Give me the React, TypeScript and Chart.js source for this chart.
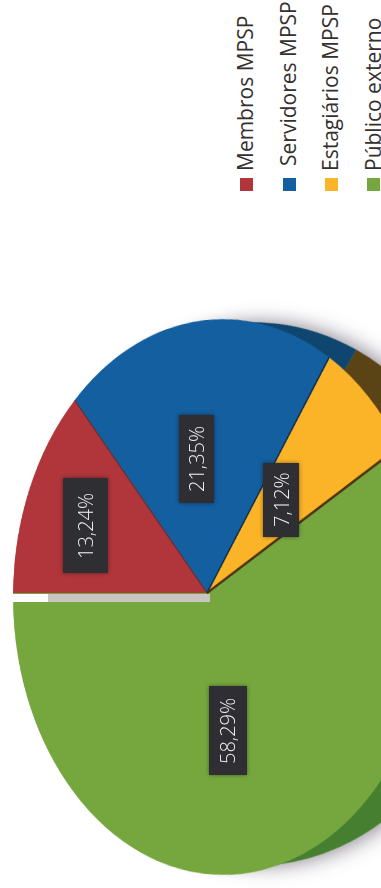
import React, { useEffect, useRef } from "react";
import { Chart, registerables } from "chart.js";

Chart.register(...registerables);

const categories = ["Membros MPSP", "Servidores MPSP", "Estagiários MPSP", "Público externo"];
const shares = [13.24, 21.35, 7.12, 58.29];
const faceColors = ["#b0363b", "#135f9f", "#fbb327", "#76a73f"];
const sideColors = ["#c9c6c2", "#0e4670", "#5a4416", "#467f30"];
const seamColors = ["#6e2a22", "#0c2a48", "#4a3212", "#4a3212"];
const seamWidths = [1.5, 2, 3, 0];

const legendFontSize = 21;
const legendSlots = [
  { x: 231, bottom: 171 },
  { x: 274, bottom: 166 },
  { x: 316, bottom: 171 },
  { x: 359, bottom: 171 },
];
const swatches = [
  { x: 240, w: 13 },
  { x: 283, w: 13 },
  { x: 325, w: 13 },
  { x: 367, w: 13 },
];
const labelBoxes = [
  { x: 63, y: 478, w: 45, h: 95 },
  { x: 179, y: 415, w: 35, h: 88 },
  { x: 263, y: 463, w: 36, h: 74 },
  { x: 209, y: 686, w: 38, h: 89 },
];

// pie projections: top face and the side wall underneath it
const SIZE = 640;
const faceView = { apexX: 207, apexY: 593, sx: 208.8, sy: 277, px: -0.0763, py: -0.01445 };
const sideView = { apexX: 215, apexY: 592, sx: 227.5, sy: 268, px: -0.1667, py: -0.0074 };

const fmt = (v: number) => v.toFixed(2).replace(".", ",") + "%";

const seamPlugin = {
  id: "seams",
  afterDatasetsDraw(chart: any) {
    const { ctx } = chart;
    const arcs = chart.getDatasetMeta(0).data;
    arcs.forEach((arc: any, i: number) => {
      if (!seamWidths[i]) return;
      ctx.save();
      ctx.strokeStyle = seamColors[i];
      ctx.lineWidth = seamWidths[i];
      ctx.beginPath();
      ctx.moveTo(arc.x, arc.y);
      ctx.lineTo(arc.x + arc.outerRadius * Math.cos(arc.endAngle), arc.y + arc.outerRadius * Math.sin(arc.endAngle));
      ctx.stroke();
      ctx.restore();
    });
  },
};

function makePie(canvas: HTMLCanvasElement, colors: string[], plugins: any[], v: typeof faceView) {
  const chart = new Chart(canvas, {
    type: "pie",
    data: {
      labels: categories,
      datasets: [{ data: shares, backgroundColor: colors, borderWidth: 0 }],
    },
    options: {
      responsive: false,
      animation: false,
      devicePixelRatio: 1,
      rotation: -90,
      events: [],
      layout: { padding: 6 },
      plugins: { legend: { display: false }, tooltip: { enabled: false } },
    } as any,
    plugins,
  });
  const R = (chart.getDatasetMeta(0).data[0] as any).outerRadius as number;
  const m = [
    v.sx / R, 0, 0, v.px / R,
    0, v.sy / R, 0, v.py / R,
    0, 0, 1, 0,
    0, 0, 0, 1,
  ];
  const wrap = canvas.parentElement as HTMLElement;
  wrap.style.transform = `matrix3d(${m.join(",")})`;
  return chart;
}

const layer = (v: typeof faceView): React.CSSProperties => ({
  position: "absolute",
  left: v.apexX - SIZE / 2,
  top: v.apexY - SIZE / 2,
  width: SIZE,
  height: SIZE,
  transformOrigin: "50% 50%",
});

export default function App() {
  const faceRef = useRef<HTMLCanvasElement>(null);
  const sideRef = useRef<HTMLCanvasElement>(null);

  useEffect(() => {
    const side = makePie(sideRef.current!, sideColors, [], sideView);
    const face = makePie(faceRef.current!, faceColors, [seamPlugin], faceView);
    return () => {
      side.destroy();
      face.destroy();
    };
  }, []);

  return (
    <div style={{ position: "fixed", left: 0, top: 0, width: 381, height: 888, overflow: "hidden", background: "#fff", fontFamily: "'Open Sans', sans-serif" }}>
      <div style={{ ...layer(sideView), filter: "drop-shadow(6px 0px 10px rgba(40,30,50,0.5))" }}>
        <canvas ref={sideRef} width={SIZE} height={SIZE} />
      </div>
      <div style={layer(faceView)}>
        <canvas ref={faceRef} width={SIZE} height={SIZE} />
      </div>

      <div style={{ position: "absolute", left: 0, top: 594, width: 48, height: 8, background: "#fff" }} />
      <div style={{ position: "absolute", left: 48, top: 594, width: 162, height: 8, background: "#c9c6c2" }} />

      {labelBoxes.map((b, i) => (
        <div
          key={"l" + i}
          style={{
            position: "absolute",
            left: b.x,
            top: b.y,
            width: b.w,
            height: b.h,
            background: "#2e2e33",
            boxShadow: "0 0 4px rgba(0,0,0,0.45)",
            color: "#f1f1f1",
            fontSize: 20,
            fontWeight: 300,
            display: "flex",
            alignItems: "center",
            justifyContent: "center",
            writingMode: "vertical-rl",
            transform: "rotate(180deg)",
            whiteSpace: "nowrap",
          }}
        >
          {fmt(shares[i])}
        </div>
      ))}

      {categories.map((c, i) => (
        <React.Fragment key={c}>
          <div
            style={{
              position: "absolute",
              left: legendSlots[i].x,
              top: legendSlots[i].bottom - 200,
              height: 200,
              writingMode: "vertical-rl",
              transform: "rotate(180deg)",
              fontSize: legendFontSize,
              lineHeight: "28px",
              color: "#33302e",
              whiteSpace: "nowrap",
            }}
          >
            {c}
          </div>
          <div
            style={{
              position: "absolute",
              left: swatches[i].x,
              top: 178,
              width: swatches[i].w,
              height: swatches[i].w,
              background: faceColors[i],
            }}
          />
        </React.Fragment>
      ))}
    </div>
  );
}
